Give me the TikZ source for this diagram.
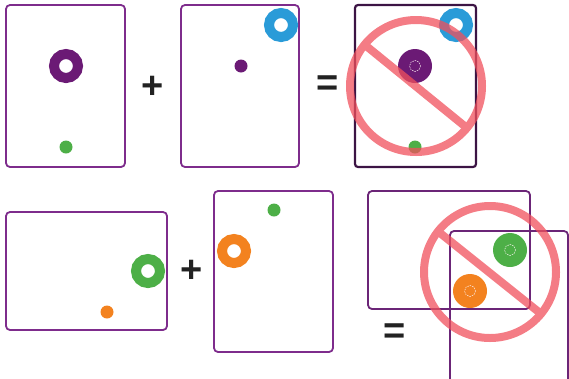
\documentclass[tikz,border=0pt]{standalone}
\usepackage{fontspec}
\setmainfont{Liberation Sans}
\begin{document}
\begin{tikzpicture}[x=1pt,y=-1pt,
  box/.style={draw=boxpurple,line width=1.8pt,rounded corners=4pt},
  darkbox/.style={draw=darkpurple,line width=2.2pt,rounded corners=3pt},
  ring/.style={line width=10pt},
  sym/.style={font=\fontsize{38}{38}\selectfont\bfseries,text=symgray,inner sep=0pt},
  nosign/.style={draw=nored,line width=8pt},
  holedash/.style={draw=white!85!pink,line width=0.5pt,dash pattern=on 1.5pt off 1pt}]
\definecolor{boxpurple}{HTML}{7E2C8C}
\definecolor{darkpurple}{HTML}{3C1444}
\definecolor{ringpurple}{HTML}{6B1A75}
\definecolor{ngreen}{HTML}{4DAF47}
\definecolor{nblue}{HTML}{2A9BD8}
\definecolor{norange}{HTML}{F3821F}
\definecolor{nored}{HTML}{F0505C}
\definecolor{symgray}{HTML}{222222}
\useasboundingbox (0,0) rectangle (569,378);
\clip (0,0) rectangle (569,378);
% ---------- top row ----------
\draw[box] (6,5) rectangle (125,167);
\draw[ring,ringpurple] (66,66) circle (12);
\fill[ngreen] (66,147) circle (6.5);
\node[sym] (plus1) at (153,87) {+};
\draw[box] (181,5) rectangle (299,167);
\draw[ring,nblue] (281,25) circle (12);
\fill[ringpurple] (241,66) circle (6.5);
\node[sym] (eq1) at (328,86) {=};
\draw[darkbox] (355,5) rectangle (476,167);
\draw[ring,nblue] (456,25) circle (12);
\fill[ringpurple] (415,66) circle (17);
\draw[holedash] (415,66) circle (5.5);
\fill[ngreen] (415,147) circle (6.5);
\begin{scope}[transparency group,opacity=0.75]
\draw[nosign] (416,86) circle (66);
\draw[nosign] (365,45) -- (467,128);
\end{scope}
% ---------- bottom row ----------
\draw[box] (6,212) rectangle (167,330);
\draw[ring,ngreen] (148,271) circle (12);
\fill[norange] (107,312) circle (6.5);
\node[sym] (plus2) at (192,271) {+};
\draw[box] (214,191) rectangle (333,352);
\fill[ngreen] (274,210) circle (6.5);
\draw[ring,norange] (234,251) circle (12);
\node[sym] (eq2) at (395,334) {=};
\draw[box,draw=boxpurple!85!black] (368,191) rectangle (530,309);
\draw[box,draw=boxpurple!85!black] (450,231) rectangle (568,393);
\fill[ngreen] (510,250) circle (17);
\draw[holedash] (510,250) circle (5.5);
\fill[norange] (470,291) circle (17);
\draw[holedash] (470,291) circle (5.5);
\begin{scope}[transparency group,opacity=0.75]
\draw[nosign] (490,272) circle (66);
\draw[nosign] (440,233) -- (540,313);
\end{scope}
\end{tikzpicture}
\end{document}
